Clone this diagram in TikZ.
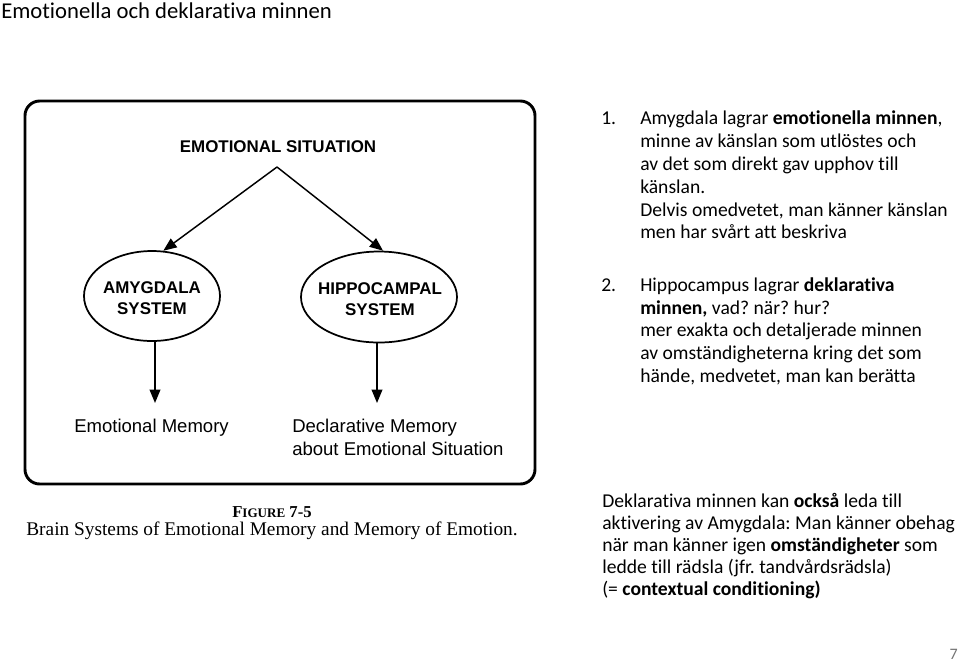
\documentclass[tikz,border=0pt]{standalone}
\usepackage{fontspec}
\setmainfont[Ligatures=NoCommon]{Carlito}
\newfontfamily\arialfont{Liberation Sans}
\newfontfamily\serifcap{Liberation Serif}
\usetikzlibrary{shapes.geometric,arrows.meta}
\frenchspacing
\begin{document}
\begin{tikzpicture}[x=0.75pt,y=-0.75pt,
  body/.style={font=\fontsize{14.7}{17}\selectfont, anchor=base west, inner sep=0pt, text=black},
  sysell/.style={ellipse, draw, line width=1.3pt, inner sep=0pt},
  systext/.style={font=\arialfont\bfseries\fontsize{12.7}{15.75}\selectfont, align=center, inner sep=0pt},
  memtext/.style={font=\arialfont\fontsize{13.9}{17.25}\selectfont, inner sep=0pt, align=left},
  arr/.style={line width=1.1pt, -{Triangle[length=10pt,width=8pt]}}]
\useasboundingbox (0,0) rectangle (960,662);
% title
\node[font=\fontsize{17}{20}\selectfont, anchor=base west, inner sep=0pt] (title) at (1,18) {Emotionella och deklarativa minnen};
% figure frame
\draw[line width=2.2pt, rounded corners=11pt] (25,101) rectangle (535,484);
\node[font=\arialfont\bfseries\fontsize{12.7}{15}\selectfont, inner sep=0pt] (sit) at (278,147) {EMOTIONAL SITUATION};
\coordinate (apex) at (277,167);
\node[sysell, minimum width=136*0.75pt, minimum height=90*0.75pt] (amy) at (152,296) {};
\node[systext] (amytx) at (152,298) {AMYGDALA\\SYSTEM};
\node[sysell, minimum width=156*0.75pt, minimum height=91*0.75pt] (hip) at (379,297) {};
\node[systext] (hiptx) at (380,299) {HIPPOCAMPAL\\SYSTEM};
\draw[arr] (apex) -- (amy.76);
\draw[arr] (apex) -- (hip.85);
\coordinate (amyend) at (155,403);
\coordinate (hipend) at (377,403);
\draw[arr] (amy.south -| amyend) -- (amyend);
\draw[arr] (hip.south -| hipend) -- (hipend);
\node[memtext, anchor=west] (emo) at (74,428) {Emotional Memory};
\node[memtext, anchor=west] (decl) at (292,437) {Declarative Memory\\about Emotional Situation};
% caption
\node[font=\serifcap\bfseries\fontsize{12.5}{14}\selectfont, inner sep=0pt] (figno) at (272,512) {F{\fontsize{9.8}{12}\selectfont IGURE} 7-5};
\node[font=\serifcap\fontsize{14.5}{16}\selectfont, inner sep=0pt] (figcap) at (272,531) {Brain Systems of Emotional Memory and Memory of Emotion.};
% right column, item 1
\node[body] (num1) at (601,124) {1.};
\node[body] (l11) at (640,124) {Amygdala lagrar \textbf{emotionella minnen},};
\node[body] (l12) at (640,147) {minne av känslan som utlöstes och};
\node[body] (l13) at (640,170) {av det som direkt gav upphov till};
\node[body] (l14) at (640,193) {känslan.};
\node[body] (l15) at (640,216) {Delvis omedvetet, man känner känslan};
\node[body] (l16) at (640,238) {men har svårt att beskriva};
% item 2
\node[body] (num2) at (601,291) {2.};
\node[body] (l21) at (640,291) {Hippocampus lagrar \textbf{deklarativa}};
\node[body] (l22) at (640,314) {\textbf{minnen,} vad? när? hur?};
\node[body] (l23) at (640,336) {mer exakta och detaljerade minnen};
\node[body] (l24) at (640,359) {av omständigheterna kring det som};
\node[body] (l25) at (640,382) {hände, medvetet, man kan berätta};
% bottom block
\node[body] (b1) at (602,507) {Deklarativa minnen kan \textbf{också} leda till};
\node[body] (b2) at (602,529) {aktivering av Amygdala: Man känner obehag};
\node[body] (b3) at (602,551) {när man känner igen \textbf{omständigheter} som};
\node[body] (b4) at (602,573) {ledde till rädsla (jfr. tandvårdsrädsla)};
\node[body] (b5) at (602,595) {(= \textbf{contextual conditioning)}};
% page number
\node[font=\fontsize{12}{14}\selectfont, text=black!55, anchor=base east, inner sep=0pt] (pg) at (958,659) {7};
\end{tikzpicture}
\end{document}
